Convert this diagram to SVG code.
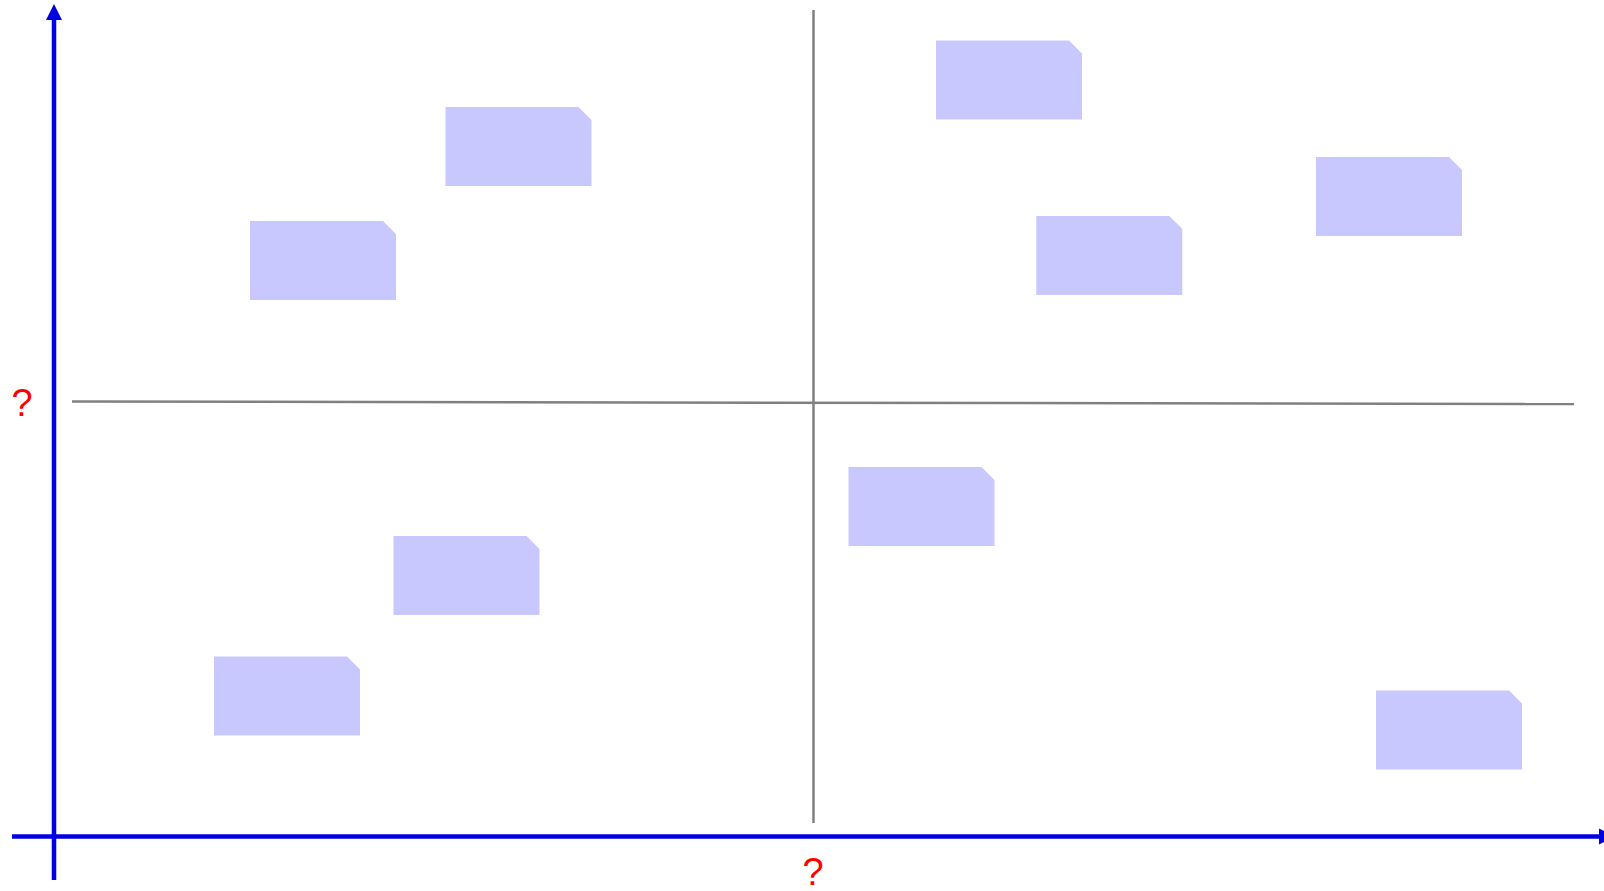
<svg xmlns="http://www.w3.org/2000/svg" width="1604" height="891" viewBox="0 0 1604 891">
<defs>
<style>
.note{fill:#c8c8ff;}
.grid{stroke:#808080;stroke-width:2.5;fill:none;}
.axis{stroke:#0000e0;stroke-width:4.5;fill:none;}
.q{font-family:"Liberation Sans",Arial,sans-serif;font-size:38px;fill:#ff0000;text-anchor:middle;}
</style>
<path id="n" d="M0 0H133L146 13V79H0Z"/>
</defs>
<rect width="1604" height="891" fill="#ffffff"/>
<g id="connectors">
<line class="grid" x1="72" y1="401.5" x2="1574" y2="404"/>
<line class="grid" x1="813.5" y1="10" x2="813.5" y2="823"/>
<line class="axis" x1="12" y1="836.5" x2="1602" y2="836.5"/>
<polygon points="1599,828.5 1615,836.5 1599,844.5" fill="#0000e0"/>
<line class="axis" x1="54" y1="880" x2="54" y2="18"/>
<polygon points="46,20 54,4 62,20" fill="#0000e0"/>
</g>
<g id="label-y"><text class="q" x="22" y="416">?</text></g>
<g id="label-x"><text class="q" x="813" y="885">?</text></g>
<g id="node1"><use href="#n" class="note" x="445.5" y="107"/></g>
<g id="node2"><use href="#n" class="note" x="250" y="221"/></g>
<g id="node3"><use href="#n" class="note" x="936" y="40.5"/></g>
<g id="node4"><use href="#n" class="note" x="1036.3" y="216"/></g>
<g id="node5"><use href="#n" class="note" x="1316" y="157"/></g>
<g id="node6"><use href="#n" class="note" x="848.5" y="467"/></g>
<g id="node7"><use href="#n" class="note" x="393.5" y="536"/></g>
<g id="node8"><use href="#n" class="note" x="214" y="656.5"/></g>
<g id="node9"><use href="#n" class="note" x="1376" y="690.5"/></g>
</svg>
